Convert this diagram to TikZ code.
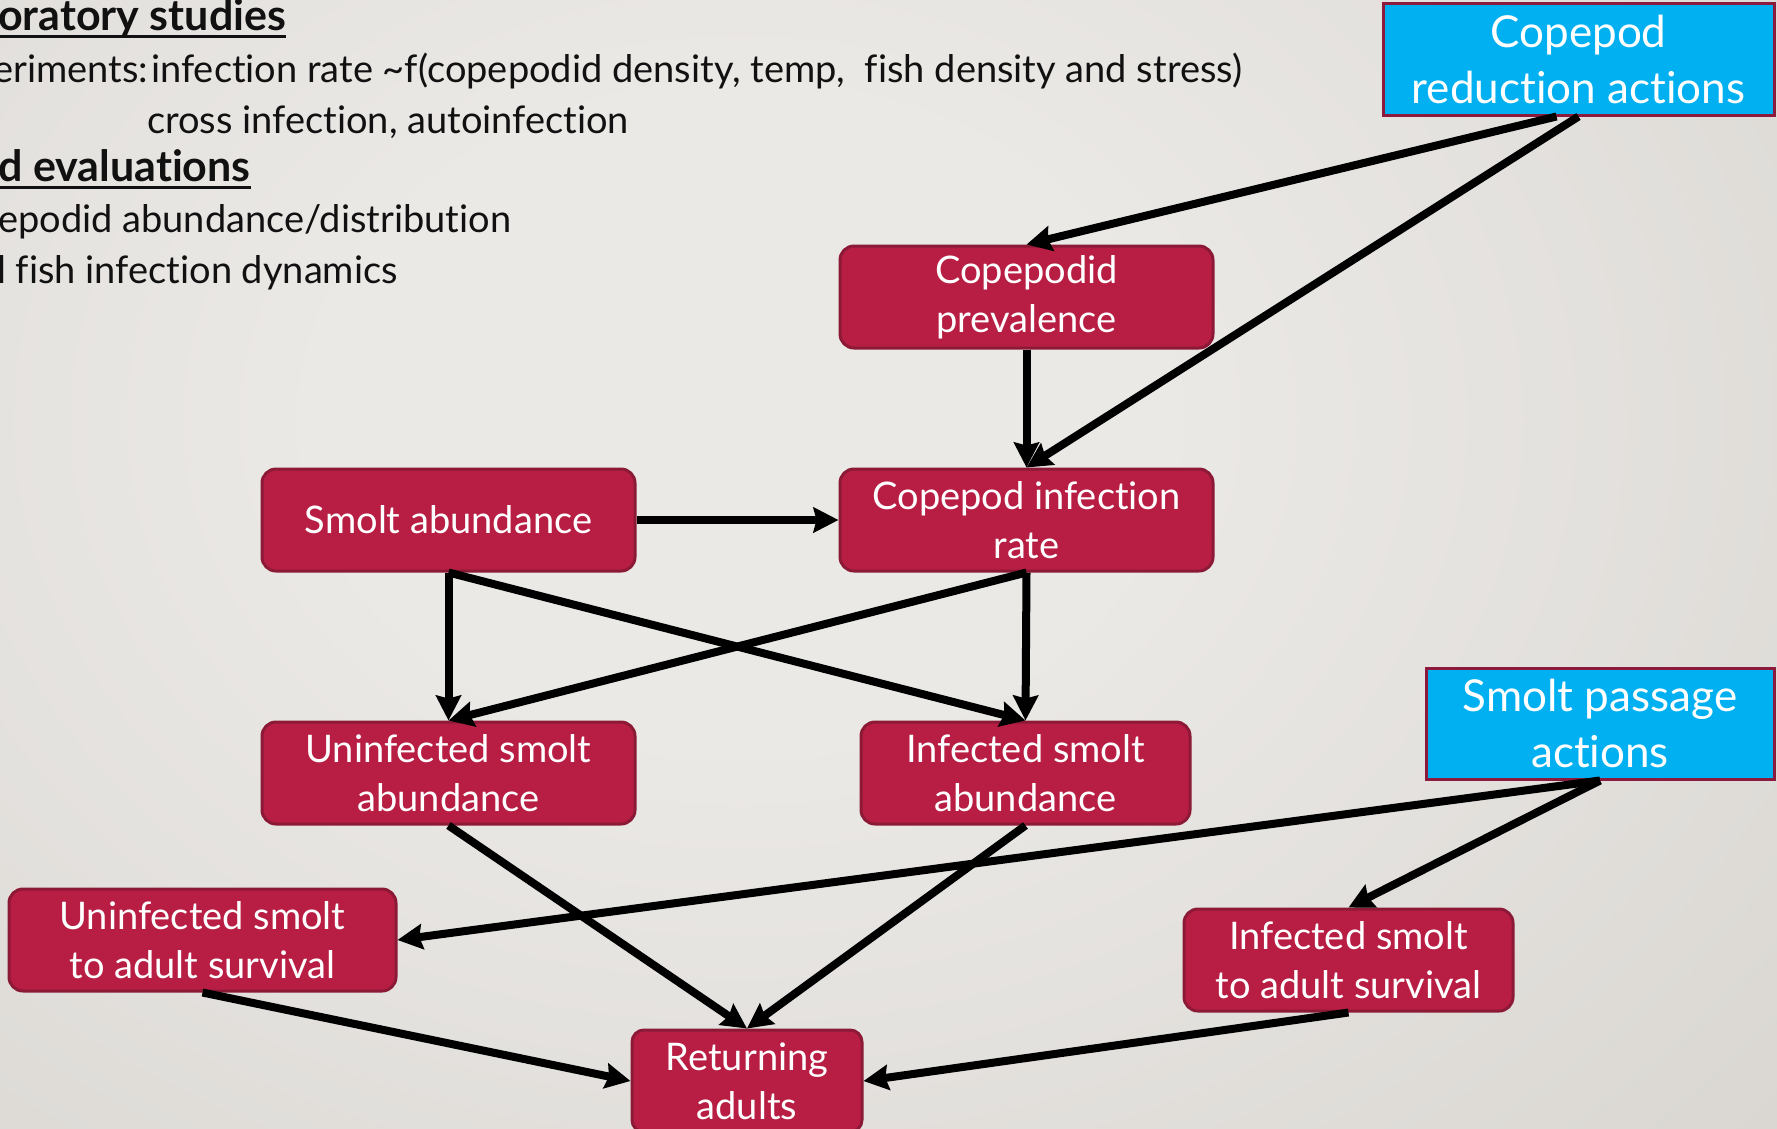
\documentclass[tikz,border=0pt]{standalone}
\usepackage{fontspec}
\setmainfont{Lato}[Ligatures=NoCommon]
\usetikzlibrary{arrows.meta}

\definecolor{boxred}{HTML}{B81E43}
\definecolor{boxedge}{HTML}{8C1A36}
\definecolor{actblue}{HTML}{00B0F0}
\definecolor{actedge}{HTML}{8C1A3C}
\definecolor{bgin}{HTML}{EBE9E6}
\definecolor{bgout}{HTML}{C8C4BE}
\definecolor{inktext}{HTML}{111111}

% soft radial glow for the slide background
\pgfdeclareradialshading{bgglow}{\pgfpoint{0bp}{0bp}}{%
  color(0bp)=(bgin); color(8bp)=(bgin); color(46bp)=(bgout); color(72bp)=(bgout)}

\newcommand\nodetxt{\fontsize{38}{49}\selectfont}
\newcommand\actiontxt{\fontsize{44}{56}\selectfont}
\newcommand\notetxt{\fontsize{38}{51}\selectfont}
\newcommand\headtxt{\fontsize{43}{51}\selectfont\bfseries}

\tikzset{
  factor/.style={draw=boxedge, line width=3pt, fill=boxred, rounded corners=14pt,
    text=white, align=center, font=\nodetxt, inner sep=0pt,
    minimum height=102pt, minimum width=373pt},
  action/.style={draw=actedge, line width=3pt, fill=actblue,
    text=white, align=center, font=\actiontxt, inner sep=0pt},
  note/.style={anchor=base west, inner sep=0pt, text=inktext, font=\notetxt},
  heading/.style={note, font=\headtxt},
  conn/.style={draw=black, line width=8pt,
    -{Stealth[length=25pt,width=25pt,inset=3pt]}},
  uline/.style={draw=inktext, line width=3pt}
}

\begin{document}
\begin{tikzpicture}[x=1pt,y=-1pt]
  \useasboundingbox (0,0) rectangle (1777,1128);
  \clip (0,0) rectangle (1777,1128);
  \shade[shading=bgglow] (-560,-580) rectangle (2040,1420);

  % notes on the studies
  \node[heading] (lab) at (-2,30) {oratory studies};
  \draw[uline] ([yshift=-6pt]lab.base west) -- ([yshift=-6pt]lab.base east);
  \node[note] (exp) at (-7,82) {eriments:};
  \node[note] (rate) at (151,82) {infection rate \textasciitilde f(copepodid density, temp,\ \ fish density and stress)};
  \node[note] (cross) at (147,133) {cross infection, autoinfection};
  \node[heading] (field) at (-2,181) {d evaluations};
  \draw[uline] ([yshift=-6pt]field.base west) -- ([yshift=-6pt]field.base east);
  \node[note] (dist) at (-2,232) {epodid abundance/distribution};
  \node[note] (wild) at (-3,283) {l fish infection dynamics};

  % management actions
  \node[action, minimum width=391pt, minimum height=112pt] (cred) at (1578.5,59)
    {Copepod\\reduction actions};
  \node[action, minimum width=348pt, minimum height=111pt] (spa) at (1600,723.5)
    {Smolt passage\\actions};

  % model factors
  \node[factor] (cpp) at (1026.5,297) {Copepodid\\prevalence};
  \node[factor] (cir) at (1026.5,520) {Copepod infection\\rate};
  \node[factor] (sab) at (448.5,520) {Smolt abundance};
  \node[factor] (uab) at (448.5,773) {Uninfected smolt\\abundance};
  \node[factor, minimum width=329pt] (iab) at (1025.5,773) {Infected smolt\\abundance};
  \node[factor, minimum width=387pt] (usv) at (202.5,940) {Uninfected smolt\\to adult survival};
  \node[factor, minimum width=329pt] (isv) at (1348.5,960) {Infected smolt\\to adult survival};
  \node[factor, minimum width=230pt, rounded corners=12pt] (ret) at (747,1081) {Returning\\adults};

  % influences
  \draw[conn] ([xshift=-22pt]cred.south) -- (cpp.north);
  \draw[conn] (cred.south) -- (cir.north);
  \draw[conn] (cpp.south) -- (cir.north);
  \draw[conn] (sab.east) -- (cir.west);
  \draw[conn] (sab.south) -- (uab.north);
  \draw[conn] (sab.south) -- (iab.north);
  \draw[conn] (cir.south) -- (uab.north);
  \draw[conn] (cir.south) -- (iab.north);
  \draw[conn] (uab.south) -- (ret.north);
  \draw[conn] (iab.south) -- (ret.north);
  \draw[conn] (spa.south) -- (usv.east);
  \draw[conn] (spa.south) -- (isv.north);
  \draw[conn] (usv.south) -- (ret.west);
  \draw[conn] (isv.south) -- (ret.east);
\end{tikzpicture}
\end{document}
